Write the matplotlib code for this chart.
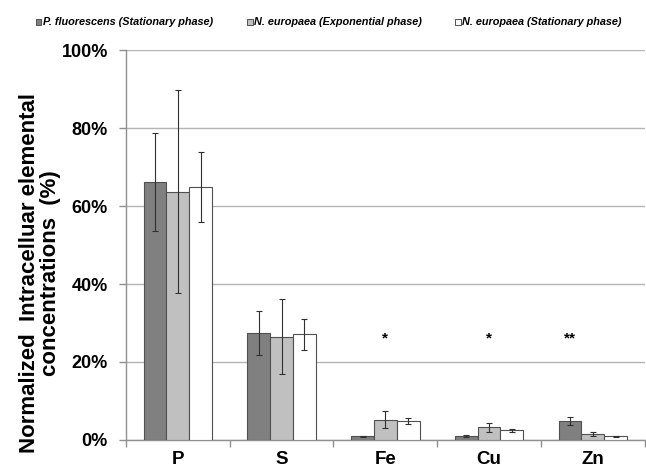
import numpy as np
import matplotlib
matplotlib.use("Agg")
import matplotlib.pyplot as plt
from matplotlib.patches import Rectangle
from matplotlib.ticker import FuncFormatter, FixedLocator

plt.rcParams["font.family"] = ["Liberation Sans", "DejaVu Sans"]

elements = ["P", "S", "Fe", "Cu", "Zn"]
series_names = [
    "P. fluorescens (Stationary phase)",
    "N. europaea (Exponential phase)",
    "N. europaea (Stationary phase)",
]
pf_stat = [66.2, 27.4, 0.9, 1.0, 4.8]
pf_stat_err = [12.5, 5.6, 0.2, 0.2, 1.0]
ne_exp = [63.7, 26.5, 5.2, 3.2, 1.5]
ne_exp_err = [26.0, 9.6, 2.2, 1.2, 0.6]
ne_stat = [64.8, 27.1, 4.8, 2.5, 0.9]
ne_stat_err = [9.0, 4.0, 0.7, 0.4, 0.15]
# significance marks: (category index, offset in bar widths, label)
marks = [(2, 0, "*"), (3, 0, "*"), (4, -1, "**")]
mark_level = 26

values = [pf_stat, ne_exp, ne_stat]
errors = [pf_stat_err, ne_exp_err, ne_stat_err]
colors = ["#808080", "#c0c0c0", "#ffffff"]

fig = plt.figure(figsize=(6.46, 4.69), dpi=100)
ax = fig.add_axes([0.195, 0.062, 0.803, 0.831])

x = np.arange(len(elements))
w = 0.22
for i, (vals, errs, c) in enumerate(zip(values, errors, colors)):
    ax.bar(x + (i - 1) * w, vals, w, color=c, edgecolor="#505050", linewidth=0.8,
           yerr=errs, capsize=2.5,
           error_kw=dict(ecolor="#303030", elinewidth=0.8, capthick=0.8),
           zorder=3)

for idx, off, lab in marks:
    ax.text(idx + off * w, mark_level, lab, ha="center", va="center",
            fontsize=11, fontweight="bold", zorder=4)

ax.set_xlim(-0.5, len(elements) - 0.5)
ax.set_ylim(0, 100)
ax.set_yticks(np.arange(0, 101, 20))
ax.yaxis.set_major_formatter(FuncFormatter(lambda v, p: f"{v:.0f}%"))
ax.yaxis.grid(True, color="#b4b4b4", linewidth=1.0, zorder=0)
ax.set_axisbelow(True)

# category labels centred, ticks at the boundaries
ax.xaxis.set_major_locator(FixedLocator(np.arange(-0.5, len(elements), 1.0)))
ax.xaxis.set_major_formatter(FuncFormatter(lambda v, p: ""))
ax.xaxis.set_minor_locator(FixedLocator(x))
ax.set_xticklabels(elements, minor=True)
ax.tick_params(axis="x", which="minor", length=0, pad=8, labelsize=13.5)
ax.tick_params(axis="x", which="major", length=5, color="#909090", width=1)
ax.tick_params(axis="y", length=5, color="#909090", width=1, labelsize=13, pad=8)
for lab in ax.get_xticklabels(minor=True) + ax.get_yticklabels():
    lab.set_fontweight("bold")

for s in ["top", "right"]:
    ax.spines[s].set_visible(False)
for s in ["left", "bottom"]:
    ax.spines[s].set_color("#909090")
    ax.spines[s].set_linewidth(1.0)

fig.text(0.062, 0.418, "Normalized  Intracelluar elemental\nconcentrations  (%)",
         rotation=90, ha="center", va="center", multialignment="center",
         fontsize=16, fontweight="bold", linespacing=1.0)

# legend row above the plot
legend_x = [0.066, 0.393, 0.715]
legend_y = 1 - 22 / 469
for lx, name, c in zip(legend_x, series_names, colors):
    fig.add_artist(Rectangle((lx - 0.011, legend_y - 0.0065), 0.009, 0.013,
                             transform=fig.transFigure, facecolor=c,
                             edgecolor="#505050", linewidth=0.7))
    fig.text(lx, legend_y, name, ha="left", va="center", fontsize=7.8,
             fontweight="bold", fontstyle="italic")

fig.savefig("out.png", dpi=100)
